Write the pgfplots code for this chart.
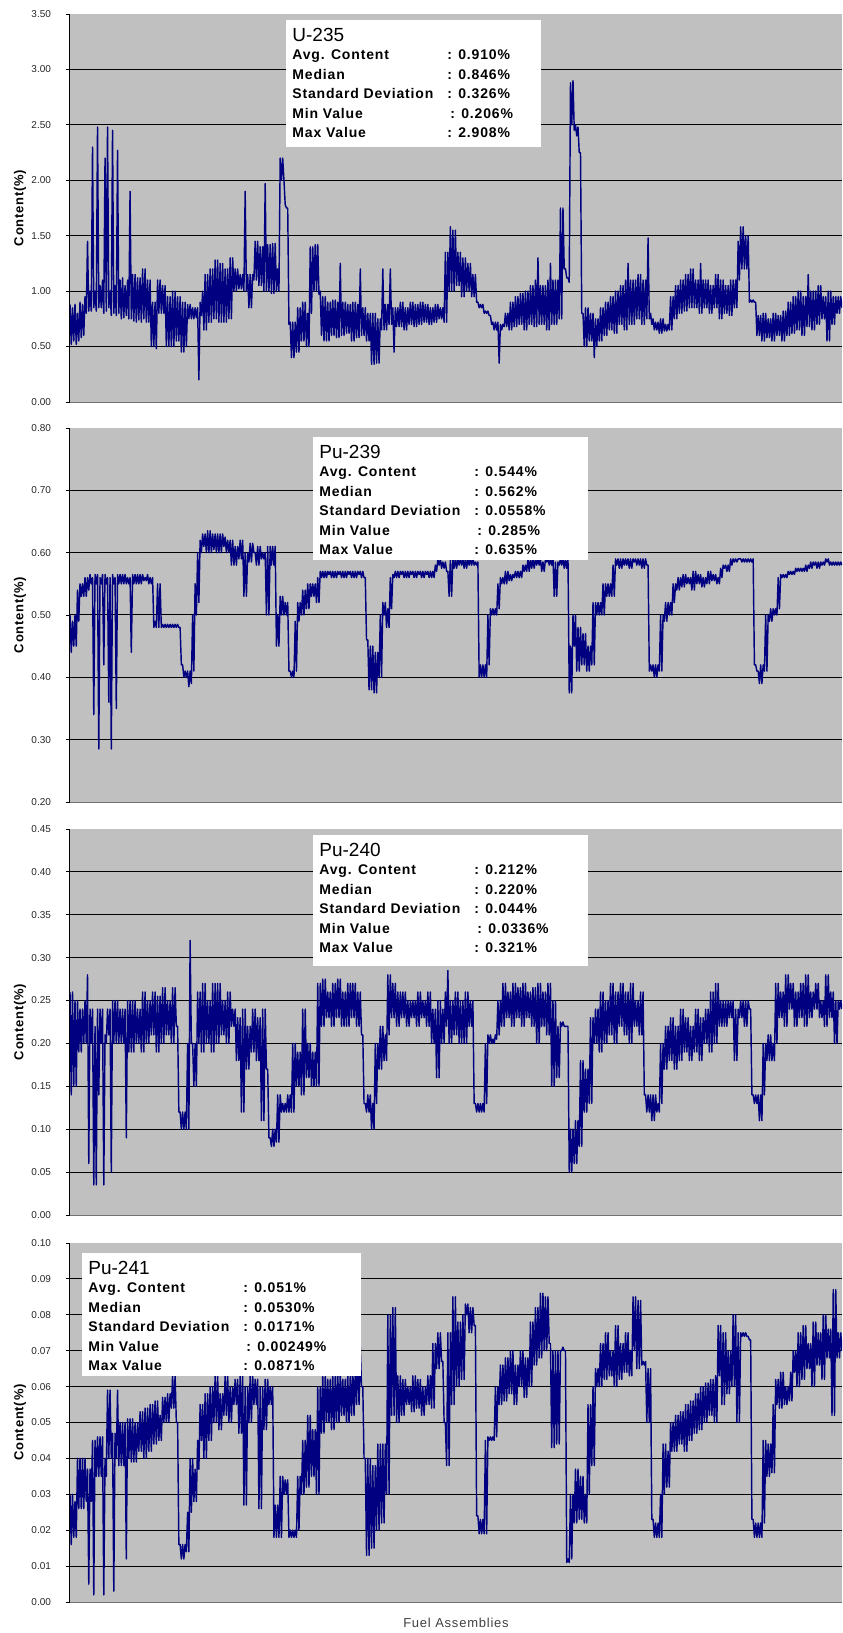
\documentclass[border=0pt]{standalone}
\usepackage{fontspec}
\setmainfont{Liberation Sans}
\newfontfamily\spaced[LetterSpace=6]{Liberation Sans}
\usepackage{pgfplots}
\pgfplotsset{compat=1.18}
\definecolor{plotbg}{RGB}{192,192,192}
\definecolor{navy}{RGB}{0,0,128}

\pgfplotsset{panel/.style={
  scale only axis, width=386pt,
  xmin=0, xmax=617, enlargelimits=false,
  axis background/.style={fill=plotbg},
  axis x line=bottom, axis y line=left,
  axis line style={-},
  x axis line style={draw=black!55, line width=0.4pt},
  y axis line style={draw=black, line width=0.5pt},
  xtick=\empty,
  ymajorgrids, grid style={black, line width=0.5pt},
  extra y tick style={grid=none},
  tick align=outside, major tick length=2pt, tick style={black, line width=0.4pt},
  yticklabel style={font=\fontsize{5}{6}\selectfont, text=black!85,
    /pgf/number format/fixed, /pgf/number format/fixed zerofill,
    /pgf/number format/precision=2, /pgf/number format/assume math mode=true, xshift=-4pt},
  every axis y label/.style={at={(axis description cs:0,0.5)}, xshift=-25pt, rotate=90, anchor=center},
  ylabel style={font=\spaced\bfseries\fontsize{6.5}{7}\selectfont},
  ylabel={Content(\%)},
},
dataline/.style={navy, line width=0.72pt, line join=round, no markers}}

\newcommand{\statrow}[3]{\node[anchor=base west, inner sep=0pt, font=\spaced\bfseries\fontsize{7}{8}\selectfont] at ([xshift=3pt,yshift=-#1]sb.north west) {\makebox[77.5pt][l]{#2}#3};}
\newcommand{\statbox}[9]{%
  \node[fill=white, inner sep=0pt, minimum width=#2, minimum height=#3, anchor=north west] (sb) at #1 {};
  \node[anchor=base west, inner sep=0pt, font=\fontsize{9.5}{10}\selectfont] at ([xshift=3pt,yshift=-10.6pt]sb.north west) {#4};
  \statrow{19.9pt}{Avg. Content}{: #5}
  \statrow{29.65pt}{Median}{: #6}
  \statrow{39.4pt}{Standard Deviation}{: #7}
  \statrow{49.15pt}{Min Value}{\hspace{1.5pt}: #8}
  \statrow{58.9pt}{Max Value}{: #9}
}

\begin{document}
\begin{tikzpicture}
\path[use as bounding box] (0,0) rectangle (421pt,816.5pt);

% ---------------- U-235 ----------------
\begin{axis}[panel, at={(35pt,615.5pt)}, anchor=south west, height=194pt,
  ymin=0, ymax=3.5, ytick={0.5,1,1.5,2,2.5,3}, extra y ticks={0,3.5}]
\addplot[dataline] table[x expr=\coordindex, y index=0, row sep=\\] {y\\
.88\\ .52\\ .85\\ .55\\ .88\\ .52\\ .8\\ .55\\ .9\\ .58\\
.88\\ .6\\ .95\\ .8\\ 1.45\\ .82\\ 1.0\\ .82\\ 2.3\\ .85\\
1.0\\ .82\\ 2.48\\ .85\\ 1.05\\ .85\\ 1.1\\ .8\\ 2.2\\ .82\\
2.48\\ .85\\ 1.0\\ .78\\ 2.45\\ .8\\ 1.05\\ .78\\ 2.27\\ .8\\
1.1\\ .75\\ 1.12\\ .76\\ 1.05\\ .78\\ 1.1\\ .75\\ 1.9\\ .75\\
1.15\\ .73\\ 1.15\\ .72\\ 1.12\\ .74\\ 1.12\\ .72\\ 1.2\\ .75\\
1.2\\ .72\\ 1.1\\ .72\\ 1.1\\ .5\\ .9\\ .5\\ .9\\ .48\\
1.1\\ .8\\ 1.1\\ .8\\ 1.05\\ .8\\ 1.05\\ .5\\ .95\\ .5\\
.95\\ .5\\ 1.0\\ .5\\ 1.0\\ .55\\ .95\\ .55\\ .95\\ .45\\
.9\\ .45\\ .9\\ .5\\ .88\\ .75\\ .88\\ .75\\ .85\\ .75\\
.85\\ .76\\ .85\\ .2\\ .9\\ .78\\ 1.0\\ .65\\ 1.15\\ .65\\
1.15\\ .72\\ 1.2\\ .72\\ 1.2\\ .75\\ 1.28\\ .75\\ 1.28\\ .72\\
1.25\\ .72\\ 1.25\\ .72\\ 1.2\\ .72\\ 1.2\\ .75\\ 1.3\\ .75\\
1.3\\ 1.0\\ 1.2\\ 1.0\\ 1.2\\ 1.02\\ 1.15\\ 1.02\\ 1.15\\ 1.0\\
1.9\\ 1.0\\ 1.15\\ .85\\ 1.15\\ .85\\ 1.15\\ 1.1\\ 1.45\\ 1.1\\
1.45\\ 1.05\\ 1.4\\ 1.05\\ 1.4\\ 1.0\\ 1.97\\ 1.0\\ 1.42\\ 1.0\\
1.42\\ .98\\ 1.43\\ .98\\ 1.43\\ 1.0\\ 1.2\\ 1.0\\ 2.2\\ 2.0\\
2.2\\ 2.0\\ 1.78\\ 1.75\\ 1.75\\ .7\\ .72\\ .4\\ .72\\ .4\\
.72\\ .45\\ .85\\ .45\\ .85\\ .55\\ .9\\ .55\\ .9\\ .5\\
.8\\ .5\\ 1.4\\ .8\\ 1.4\\ 1.0\\ 1.42\\ 1.0\\ 1.42\\ .97\\
1.0\\ .6\\ .95\\ .55\\ .95\\ .55\\ .9\\ .55\\ .9\\ .6\\
.92\\ .6\\ .92\\ .58\\ .9\\ .58\\ 1.25\\ .6\\ .9\\ .6\\
.9\\ .62\\ .88\\ .62\\ .88\\ .55\\ .9\\ .55\\ .9\\ .58\\
.88\\ .58\\ 1.2\\ .6\\ .85\\ .6\\ .85\\ .55\\ .8\\ .55\\
.8\\ .34\\ .8\\ .34\\ .8\\ .35\\ .75\\ .35\\ .75\\ .65\\
1.2\\ .65\\ .88\\ .65\\ .88\\ .7\\ 1.2\\ .7\\ .85\\ .45\\
.85\\ .68\\ .85\\ .68\\ .9\\ .68\\ .9\\ .65\\ .85\\ .65\\
.85\\ .7\\ .9\\ .7\\ .9\\ .68\\ .88\\ .68\\ .88\\ .7\\
.9\\ .7\\ .9\\ .72\\ .88\\ .72\\ .88\\ .7\\ .85\\ .7\\
.85\\ .72\\ .88\\ .72\\ .88\\ .75\\ .85\\ .75\\ .85\\ .72\\
1.35\\ .72\\ 1.35\\ 1.0\\ 1.58\\ 1.0\\ 1.55\\ 1.0\\ 1.55\\ 1.05\\
1.35\\ 1.05\\ 1.35\\ .95\\ 1.3\\ .95\\ 1.3\\ 1.0\\ 1.25\\ 1.0\\
1.25\\ .95\\ 1.15\\ .95\\ 1.15\\ .9\\ .9\\ .85\\ .88\\ .85\\
.88\\ .8\\ .82\\ .8\\ .82\\ .78\\ .78\\ .7\\ .72\\ .65\\
.72\\ .65\\ .72\\ .35\\ .7\\ .65\\ .7\\ .68\\ .8\\ .68\\
.8\\ .65\\ .9\\ .65\\ .9\\ .68\\ .95\\ .68\\ .95\\ .7\\
.98\\ .7\\ .98\\ .65\\ 1.0\\ .65\\ 1.0\\ .7\\ 1.05\\ .7\\
1.05\\ .68\\ 1.1\\ .68\\ 1.3\\ .7\\ 1.05\\ .7\\ 1.05\\ .7\\
1.05\\ .65\\ 1.1\\ .65\\ 1.25\\ .7\\ 1.1\\ .7\\ 1.1\\ .7\\
1.1\\ .75\\ 1.75\\ .75\\ 1.75\\ 1.2\\ 1.2\\ 1.12\\ 1.12\\ 1.08\\
2.88\\ 2.5\\ 2.9\\ 2.45\\ 2.5\\ 2.4\\ 2.48\\ 2.25\\ 2.25\\ .8\\
.8\\ .5\\ .85\\ .5\\ .85\\ .55\\ .8\\ .55\\ .8\\ .4\\
.75\\ .5\\ .75\\ .55\\ .85\\ .55\\ .85\\ .6\\ .9\\ .6\\
.9\\ .65\\ .95\\ .65\\ .95\\ .62\\ 1.0\\ .62\\ 1.0\\ .7\\
1.05\\ .7\\ 1.05\\ .65\\ 1.1\\ .65\\ 1.25\\ .7\\ 1.1\\ .7\\
1.1\\ .7\\ 1.1\\ .75\\ 1.15\\ .75\\ 1.15\\ .7\\ 1.1\\ .7\\
1.1\\ .75\\ 1.48\\ .75\\ .8\\ .7\\ .75\\ .65\\ .72\\ .65\\
.72\\ .62\\ .75\\ .62\\ .75\\ .64\\ .7\\ .64\\ .7\\ .65\\
.95\\ .65\\ .95\\ .75\\ 1.05\\ .75\\ 1.05\\ .8\\ 1.1\\ .8\\
1.1\\ .82\\ 1.15\\ .82\\ 1.15\\ .85\\ 1.2\\ .85\\ 1.2\\ .85\\
1.1\\ .85\\ 1.1\\ .8\\ 1.25\\ .8\\ 1.1\\ .85\\ 1.1\\ .85\\
1.1\\ .8\\ 1.05\\ .8\\ 1.05\\ .85\\ 1.15\\ .85\\ 1.15\\ .75\\
1.1\\ .75\\ 1.1\\ .8\\ 1.05\\ .8\\ 1.05\\ .78\\ 1.1\\ .78\\
1.1\\ .85\\ 1.1\\ .85\\ 1.45\\ 1.1\\ 1.58\\ 1.2\\ 1.58\\ 1.2\\
1.5\\ 1.2\\ 1.5\\ .9\\ .92\\ .9\\ .92\\ .9\\ .9\\ .6\\
.78\\ .6\\ .78\\ .55\\ .8\\ .55\\ .8\\ .58\\ .75\\ .58\\
.75\\ .55\\ .8\\ .55\\ .8\\ .6\\ .78\\ .6\\ .78\\ .55\\
.82\\ .55\\ .82\\ .6\\ .9\\ .6\\ .9\\ .62\\ .95\\ .62\\
.95\\ .65\\ 1.0\\ .65\\ 1.0\\ .6\\ .95\\ .6\\ .95\\ .68\\
1.15\\ .68\\ 1.0\\ .65\\ 1.0\\ .65\\ 1.0\\ .7\\ 1.05\\ .7\\
1.05\\ .75\\ .95\\ .75\\ .95\\ .55\\ 1.0\\ .55\\ 1.0\\ .7\\
.95\\ .7\\ .95\\ .8\\ .95\\ .8\\ .95\\ .85\\
};
\end{axis}

% ---------------- Pu-239 ----------------
\begin{axis}[panel, at={(35pt,415.5pt)}, anchor=south west, height=187pt,
  ymin=0.2, ymax=0.8, ytick={0.3,0.4,0.5,0.6,0.7}, extra y ticks={0.2,0.8}]
\addplot[dataline] table[x expr=\coordindex, y index=0, row sep=\\] {y\\
.5\\ .44\\ .49\\ .45\\ .5\\ .45\\ .54\\ .49\\ .55\\ .53\\
.55\\ .53\\ .56\\ .53\\ .56\\ .54\\ .565\\ .55\\ .56\\ .34\\
.565\\ .55\\ .565\\ .285\\ .56\\ .55\\ .565\\ .42\\ .565\\ .55\\
.56\\ .36\\ .56\\ .285\\ .565\\ .55\\ .56\\ .35\\ .565\\ .55\\
.565\\ .55\\ .565\\ .55\\ .565\\ .55\\ .56\\ .55\\ .56\\ .44\\
.565\\ .55\\ .565\\ .55\\ .565\\ .55\\ .565\\ .55\\ .565\\ .555\\
.56\\ .555\\ .565\\ .55\\ .56\\ .55\\ .56\\ .48\\ .49\\ .48\\
.55\\ .48\\ .55\\ .48\\ .485\\ .48\\ .485\\ .48\\ .485\\ .48\\
.485\\ .48\\ .485\\ .48\\ .485\\ .48\\ .485\\ .48\\ .48\\ .42\\
.42\\ .4\\ .41\\ .4\\ .41\\ .385\\ .41\\ .39\\ .5\\ .41\\
.55\\ .5\\ .6\\ .52\\ .62\\ .6\\ .63\\ .61\\ .63\\ .6\\
.635\\ .6\\ .635\\ .6\\ .63\\ .605\\ .63\\ .6\\ .63\\ .6\\
.63\\ .6\\ .63\\ .61\\ .625\\ .6\\ .62\\ .6\\ .62\\ .58\\
.62\\ .58\\ .61\\ .58\\ .61\\ .59\\ .62\\ .59\\ .62\\ .53\\
.6\\ .53\\ .6\\ .585\\ .615\\ .585\\ .615\\ .6\\ .6\\ .58\\
.61\\ .58\\ .61\\ .59\\ .6\\ .59\\ .6\\ .5\\ .61\\ .5\\
.61\\ .58\\ .61\\ .58\\ .61\\ .45\\ .5\\ .45\\ .53\\ .5\\
.53\\ .5\\ .52\\ .5\\ .52\\ .41\\ .41\\ .4\\ .41\\ .4\\
.49\\ .41\\ .52\\ .49\\ .52\\ .5\\ .54\\ .5\\ .54\\ .51\\
.55\\ .51\\ .55\\ .53\\ .55\\ .53\\ .55\\ .52\\ .56\\ .52\\
.57\\ .56\\ .57\\ .56\\ .57\\ .56\\ .57\\ .565\\ .57\\ .56\\
.57\\ .56\\ .57\\ .56\\ .57\\ .565\\ .57\\ .56\\ .57\\ .56\\
.57\\ .56\\ .57\\ .565\\ .57\\ .56\\ .57\\ .56\\ .57\\ .56\\
.57\\ .565\\ .57\\ .56\\ .57\\ .56\\ .56\\ .46\\ .46\\ .38\\
.45\\ .38\\ .45\\ .375\\ .44\\ .375\\ .44\\ .4\\ .5\\ .4\\
.52\\ .5\\ .52\\ .48\\ .51\\ .48\\ .56\\ .51\\ .565\\ .56\\
.57\\ .56\\ .57\\ .56\\ .57\\ .565\\ .57\\ .56\\ .57\\ .56\\
.57\\ .56\\ .57\\ .565\\ .57\\ .56\\ .57\\ .56\\ .57\\ .565\\
.57\\ .56\\ .57\\ .56\\ .57\\ .565\\ .57\\ .56\\ .57\\ .56\\
.57\\ .56\\ .58\\ .57\\ .59\\ .58\\ .59\\ .575\\ .585\\ .575\\
.585\\ .57\\ .57\\ .53\\ .59\\ .53\\ .59\\ .575\\ .59\\ .575\\
.59\\ .58\\ .59\\ .58\\ .59\\ .575\\ .59\\ .575\\ .59\\ .58\\
.59\\ .58\\ .59\\ .58\\ .585\\ .58\\ .585\\ .4\\ .42\\ .4\\
.42\\ .4\\ .42\\ .4\\ .5\\ .42\\ .51\\ .5\\ .51\\ .5\\
.51\\ .5\\ .55\\ .51\\ .56\\ .55\\ .56\\ .55\\ .57\\ .55\\
.57\\ .555\\ .565\\ .555\\ .565\\ .56\\ .57\\ .56\\ .57\\ .56\\
.57\\ .56\\ .58\\ .57\\ .58\\ .57\\ .59\\ .57\\ .59\\ .575\\
.59\\ .575\\ .59\\ .58\\ .59\\ .58\\ .59\\ .57\\ .585\\ .57\\
.59\\ .585\\ .59\\ .58\\ .59\\ .58\\ .59\\ .53\\ .585\\ .53\\
.585\\ .58\\ .59\\ .58\\ .59\\ .575\\ .59\\ .575\\ .59\\ .375\\
.45\\ .375\\ .5\\ .45\\ .5\\ .41\\ .48\\ .41\\ .48\\ .42\\
.47\\ .42\\ .47\\ .41\\ .45\\ .41\\ .45\\ .42\\ .52\\ .42\\
.52\\ .5\\ .52\\ .5\\ .52\\ .5\\ .55\\ .5\\ .55\\ .53\\
.55\\ .53\\ .55\\ .53\\ .58\\ .53\\ .59\\ .58\\ .59\\ .575\\
.59\\ .575\\ .59\\ .58\\ .59\\ .58\\ .59\\ .575\\ .59\\ .575\\
.59\\ .585\\ .59\\ .58\\ .59\\ .58\\ .59\\ .575\\ .59\\ .575\\
.59\\ .58\\ .58\\ .41\\ .42\\ .41\\ .42\\ .4\\ .42\\ .4\\
.42\\ .41\\ .5\\ .41\\ .5\\ .49\\ .52\\ .49\\ .52\\ .5\\
.52\\ .5\\ .55\\ .52\\ .55\\ .54\\ .56\\ .54\\ .56\\ .545\\
.565\\ .545\\ .565\\ .55\\ .56\\ .55\\ .56\\ .54\\ .57\\ .54\\
.57\\ .55\\ .565\\ .55\\ .565\\ .545\\ .56\\ .545\\ .56\\ .55\\
.57\\ .55\\ .57\\ .555\\ .565\\ .555\\ .565\\ .55\\ .56\\ .55\\
.575\\ .56\\ .58\\ .575\\ .58\\ .57\\ .58\\ .57\\ .59\\ .58\\
.59\\ .585\\ .59\\ .585\\ .59\\ .59\\ .59\\ .585\\ .59\\ .585\\
.59\\ .585\\ .59\\ .585\\ .59\\ .585\\ .59\\ .42\\ .42\\ .41\\
.41\\ .39\\ .42\\ .39\\ .42\\ .41\\ .5\\ .41\\ .5\\ .49\\
.51\\ .49\\ .51\\ .5\\ .51\\ .5\\ .56\\ .51\\ .565\\ .56\\
.565\\ .56\\ .565\\ .56\\ .57\\ .565\\ .57\\ .565\\ .57\\ .565\\
.575\\ .57\\ .575\\ .57\\ .575\\ .57\\ .575\\ .57\\ .58\\ .57\\
.58\\ .575\\ .585\\ .575\\ .585\\ .58\\ .585\\ .575\\ .585\\ .575\\
.585\\ .58\\ .585\\ .58\\ .59\\ .585\\ .59\\ .58\\ .585\\ .58\\
.585\\ .58\\ .585\\ .58\\ .585\\ .58\\ .585\\ .58\\
};
\end{axis}

% ---------------- Pu-240 ----------------
\begin{axis}[panel, at={(35pt,209pt)}, anchor=south west, height=193pt,
  ymin=0, ymax=0.45, ytick={0.05,0.1,0.15,0.2,0.25,0.3,0.35,0.4}, extra y ticks={0,0.45}]
\addplot[dataline] table[x expr=\coordindex, y index=0, row sep=\\] {y\\
.26\\ .14\\ .26\\ .15\\ .25\\ .15\\ .25\\ .19\\ .24\\ .19\\
.24\\ .2\\ .25\\ .2\\ .28\\ .06\\ .24\\ .2\\ .24\\ .035\\
.22\\ .035\\ .24\\ .14\\ .24\\ .2\\ .24\\ .035\\ .21\\ .2\\
.24\\ .21\\ .24\\ .05\\ .25\\ .2\\ .25\\ .2\\ .25\\ .2\\
.24\\ .2\\ .24\\ .2\\ .24\\ .09\\ .25\\ .19\\ .25\\ .19\\
.25\\ .19\\ .25\\ .2\\ .24\\ .2\\ .24\\ .19\\ .26\\ .19\\
.26\\ .2\\ .25\\ .2\\ .25\\ .21\\ .26\\ .21\\ .26\\ .19\\
.255\\ .19\\ .255\\ .2\\ .265\\ .2\\ .265\\ .21\\ .25\\ .21\\
.25\\ .2\\ .265\\ .2\\ .265\\ .22\\ .22\\ .12\\ .12\\ .1\\
.12\\ .1\\ .12\\ .1\\ .2\\ .1\\ .32\\ .2\\ .2\\ .15\\
.2\\ .15\\ .26\\ .2\\ .26\\ .19\\ .27\\ .19\\ .27\\ .2\\
.25\\ .2\\ .25\\ .19\\ .27\\ .19\\ .27\\ .2\\ .27\\ .2\\
.27\\ .21\\ .25\\ .21\\ .25\\ .2\\ .26\\ .2\\ .26\\ .22\\
.24\\ .22\\ .24\\ .18\\ .23\\ .18\\ .23\\ .12\\ .24\\ .12\\
.24\\ .17\\ .22\\ .17\\ .22\\ .19\\ .24\\ .19\\ .24\\ .18\\
.23\\ .18\\ .23\\ .11\\ .24\\ .11\\ .24\\ .17\\ .17\\ .09\\
.09\\ .08\\ .1\\ .08\\ .1\\ .085\\ .14\\ .085\\ .14\\ .12\\
.13\\ .12\\ .13\\ .12\\ .14\\ .12\\ .14\\ .12\\ .2\\ .12\\
.2\\ .15\\ .19\\ .15\\ .19\\ .14\\ .24\\ .14\\ .24\\ .16\\
.2\\ .16\\ .2\\ .15\\ .19\\ .15\\ .19\\ .15\\ .27\\ .15\\
.27\\ .22\\ .275\\ .22\\ .275\\ .23\\ .26\\ .23\\ .26\\ .22\\
.27\\ .22\\ .27\\ .23\\ .275\\ .23\\ .275\\ .22\\ .26\\ .22\\
.26\\ .22\\ .27\\ .22\\ .27\\ .23\\ .27\\ .23\\ .27\\ .22\\
.26\\ .22\\ .26\\ .21\\ .21\\ .13\\ .13\\ .12\\ .14\\ .12\\
.14\\ .1\\ .13\\ .1\\ .2\\ .13\\ .2\\ .17\\ .22\\ .17\\
.22\\ .18\\ .21\\ .18\\ .28\\ .21\\ .28\\ .23\\ .27\\ .23\\
.27\\ .22\\ .26\\ .22\\ .26\\ .23\\ .26\\ .23\\ .26\\ .22\\
.25\\ .22\\ .25\\ .23\\ .25\\ .23\\ .25\\ .22\\ .26\\ .22\\
.26\\ .23\\ .25\\ .23\\ .25\\ .22\\ .26\\ .22\\ .26\\ .2\\
.24\\ .2\\ .24\\ .16\\ .25\\ .16\\ .25\\ .2\\ .24\\ .2\\
.26\\ .22\\ .285\\ .2\\ .25\\ .2\\ .25\\ .21\\ .26\\ .21\\
.26\\ .2\\ .25\\ .2\\ .25\\ .2\\ .26\\ .2\\ .26\\ .22\\
.25\\ .22\\ .25\\ .13\\ .13\\ .12\\ .13\\ .12\\ .13\\ .12\\
.13\\ .12\\ .2\\ .13\\ .21\\ .2\\ .21\\ .2\\ .205\\ .2\\
.21\\ .205\\ .25\\ .21\\ .25\\ .22\\ .27\\ .22\\ .27\\ .23\\
.26\\ .23\\ .26\\ .22\\ .27\\ .22\\ .27\\ .23\\ .265\\ .23\\
.265\\ .22\\ .27\\ .22\\ .27\\ .23\\ .26\\ .23\\ .26\\ .22\\
.265\\ .22\\ .265\\ .2\\ .27\\ .2\\ .27\\ .22\\ .26\\ .22\\
.26\\ .21\\ .27\\ .21\\ .27\\ .15\\ .25\\ .15\\ .25\\ .16\\
.22\\ .16\\ .225\\ .22\\ .225\\ .22\\ .22\\ .22\\ .22\\ .05\\
.1\\ .05\\ .1\\ .06\\ .11\\ .06\\ .11\\ .08\\ .18\\ .08\\
.18\\ .12\\ .17\\ .12\\ .17\\ .13\\ .23\\ .13\\ .23\\ .2\\
.24\\ .2\\ .24\\ .19\\ .26\\ .19\\ .26\\ .2\\ .25\\ .2\\
.25\\ .21\\ .27\\ .21\\ .27\\ .2\\ .26\\ .2\\ .26\\ .22\\
.27\\ .22\\ .27\\ .21\\ .26\\ .21\\ .26\\ .2\\ .27\\ .2\\
.27\\ .22\\ .25\\ .22\\ .25\\ .21\\ .26\\ .21\\ .26\\ .14\\
.14\\ .12\\ .14\\ .12\\ .14\\ .11\\ .14\\ .11\\ .14\\ .12\\
.13\\ .12\\ .2\\ .13\\ .2\\ .17\\ .22\\ .17\\ .22\\ .18\\
.23\\ .18\\ .23\\ .17\\ .22\\ .17\\ .22\\ .18\\ .24\\ .18\\
.24\\ .19\\ .23\\ .19\\ .23\\ .18\\ .22\\ .18\\ .22\\ .19\\
.24\\ .19\\ .24\\ .18\\ .23\\ .18\\ .23\\ .2\\ .24\\ .2\\
.24\\ .19\\ .26\\ .19\\ .26\\ .2\\ .27\\ .2\\ .27\\ .22\\
.25\\ .22\\ .25\\ .22\\ .25\\ .22\\ .25\\ .23\\ .25\\ .23\\
.25\\ .18\\ .24\\ .18\\ .24\\ .23\\ .25\\ .23\\ .25\\ .22\\
.25\\ .22\\ .25\\ .24\\ .24\\ .14\\ .14\\ .13\\ .14\\ .13\\
.14\\ .11\\ .14\\ .11\\ .2\\ .14\\ .2\\ .18\\ .21\\ .18\\
.21\\ .18\\ .2\\ .18\\ .27\\ .2\\ .27\\ .23\\ .26\\ .23\\
.26\\ .22\\ .28\\ .22\\ .28\\ .24\\ .27\\ .24\\ .27\\ .22\\
.26\\ .22\\ .26\\ .23\\ .27\\ .23\\ .27\\ .22\\ .28\\ .22\\
.28\\ .23\\ .26\\ .23\\ .26\\ .24\\ .27\\ .24\\ .27\\ .23\\
.25\\ .23\\ .25\\ .22\\ .28\\ .22\\ .28\\ .23\\ .26\\ .23\\
.26\\ .2\\ .25\\ .2\\ .25\\ .24\\ .25\\ .24\\
};
\end{axis}

% ---------------- Pu-241 ----------------
\begin{axis}[panel, at={(35pt,15.5pt)}, anchor=south west, height=179.5pt,
  ymin=0, ymax=0.1, ytick={0.01,0.02,0.03,0.04,0.05,0.06,0.07,0.08,0.09}, extra y ticks={0,0.1},
  every axis x label/.style={at={(axis description cs:0.5,0)}, anchor=center, yshift=-10.5pt},
  xlabel style={font=\spaced\fontsize{6.5}{7}\selectfont, text=black!75},
  xlabel={Fuel Assemblies}]
\addplot[dataline] table[x expr=\coordindex, y index=0, row sep=\\] {y\\
.03\\ .016\\ .03\\ .018\\ .028\\ .018\\ .04\\ .026\\ .04\\ .026\\
.04\\ .026\\ .04\\ .028\\ .037\\ .005\\ .037\\ .028\\ .045\\ .002\\
.045\\ .035\\ .046\\ .035\\ .046\\ .035\\ .046\\ .002\\ .04\\ .035\\
.059\\ .04\\ .059\\ .04\\ .047\\ .003\\ .047\\ .04\\ .059\\ .038\\
.05\\ .038\\ .05\\ .038\\ .05\\ .012\\ .051\\ .04\\ .051\\ .039\\
.051\\ .039\\ .05\\ .039\\ .05\\ .042\\ .053\\ .042\\ .053\\ .04\\
.054\\ .04\\ .054\\ .042\\ .055\\ .042\\ .055\\ .044\\ .056\\ .044\\
.056\\ .045\\ .052\\ .045\\ .057\\ .05\\ .057\\ .05\\ .058\\ .05\\
.058\\ .054\\ .063\\ .054\\ .063\\ .05\\ .05\\ .016\\ .016\\ .012\\
.016\\ .012\\ .016\\ .014\\ .025\\ .014\\ .04\\ .025\\ .04\\ .028\\
.037\\ .028\\ .045\\ .037\\ .055\\ .045\\ .055\\ .04\\ .058\\ .04\\
.058\\ .045\\ .06\\ .045\\ .06\\ .05\\ .063\\ .05\\ .063\\ .048\\
.058\\ .048\\ .058\\ .052\\ .063\\ .052\\ .063\\ .05\\ .06\\ .05\\
.06\\ .055\\ .062\\ .055\\ .062\\ .047\\ .063\\ .047\\ .063\\ .027\\
.06\\ .027\\ .06\\ .05\\ .063\\ .05\\ .063\\ .055\\ .062\\ .055\\
.062\\ .026\\ .06\\ .026\\ .06\\ .048\\ .062\\ .048\\ .062\\ .055\\
.06\\ .055\\ .06\\ .018\\ .027\\ .018\\ .027\\ .018\\ .035\\ .018\\
.035\\ .03\\ .034\\ .03\\ .034\\ .018\\ .02\\ .018\\ .02\\ .018\\
.02\\ .018\\ .035\\ .02\\ .035\\ .03\\ .045\\ .03\\ .045\\ .032\\
.052\\ .032\\ .052\\ .035\\ .048\\ .035\\ .048\\ .03\\ .06\\ .03\\
.06\\ .047\\ .063\\ .047\\ .063\\ .05\\ .062\\ .05\\ .062\\ .048\\
.063\\ .048\\ .063\\ .05\\ .064\\ .05\\ .064\\ .052\\ .062\\ .052\\
.062\\ .05\\ .063\\ .05\\ .063\\ .052\\ .065\\ .052\\ .065\\ .055\\
.071\\ .055\\ .071\\ .06\\ .06\\ .04\\ .04\\ .013\\ .04\\ .013\\
.04\\ .015\\ .038\\ .015\\ .038\\ .02\\ .044\\ .02\\ .044\\ .022\\
.044\\ .022\\ .044\\ .03\\ .08\\ .03\\ .08\\ .052\\ .082\\ .052\\
.082\\ .05\\ .063\\ .05\\ .063\\ .052\\ .062\\ .052\\ .062\\ .055\\
.06\\ .055\\ .06\\ .053\\ .063\\ .053\\ .063\\ .054\\ .062\\ .054\\
.062\\ .052\\ .06\\ .052\\ .06\\ .055\\ .063\\ .055\\ .063\\ .054\\
.072\\ .054\\ .072\\ .065\\ .075\\ .065\\ .075\\ .067\\ .067\\ .05\\
.05\\ .038\\ .075\\ .038\\ .075\\ .055\\ .085\\ .055\\ .085\\ .06\\
.078\\ .06\\ .078\\ .062\\ .08\\ .062\\ .083\\ .08\\ .083\\ .075\\
.082\\ .075\\ .082\\ .077\\ .077\\ .024\\ .024\\ .019\\ .023\\ .019\\
.023\\ .019\\ .045\\ .019\\ .046\\ .045\\ .046\\ .045\\ .046\\ .045\\
.06\\ .046\\ .06\\ .055\\ .066\\ .055\\ .066\\ .056\\ .068\\ .056\\
.068\\ .058\\ .07\\ .058\\ .07\\ .055\\ .066\\ .055\\ .066\\ .06\\
.07\\ .06\\ .07\\ .057\\ .068\\ .057\\ .068\\ .06\\ .078\\ .06\\
.078\\ .066\\ .082\\ .066\\ .082\\ .068\\ .086\\ .068\\ .086\\ .07\\
.085\\ .07\\ .085\\ .072\\ .072\\ .043\\ .07\\ .043\\ .07\\ .044\\
.07\\ .044\\ .07\\ .07\\ .071\\ .07\\ .07\\ .011\\ .012\\ .011\\
.03\\ .012\\ .03\\ .022\\ .037\\ .022\\ .037\\ .023\\ .035\\ .023\\
.035\\ .022\\ .03\\ .022\\ .055\\ .03\\ .055\\ .038\\ .06\\ .038\\
.065\\ .06\\ .065\\ .06\\ .072\\ .06\\ .072\\ .062\\ .075\\ .062\\
.075\\ .063\\ .07\\ .063\\ .07\\ .06\\ .077\\ .06\\ .077\\ .062\\
.072\\ .062\\ .072\\ .064\\ .075\\ .064\\ .075\\ .063\\ .07\\ .063\\
.085\\ .07\\ .085\\ .065\\ .084\\ .065\\ .084\\ .066\\ .067\\ .066\\
.067\\ .05\\ .065\\ .05\\ .065\\ .023\\ .023\\ .018\\ .022\\ .018\\
.022\\ .018\\ .03\\ .018\\ .044\\ .03\\ .044\\ .032\\ .042\\ .032\\
.05\\ .042\\ .05\\ .042\\ .052\\ .042\\ .052\\ .044\\ .053\\ .044\\
.053\\ .042\\ .055\\ .042\\ .055\\ .045\\ .056\\ .045\\ .056\\ .047\\
.058\\ .047\\ .058\\ .048\\ .06\\ .048\\ .06\\ .05\\ .061\\ .05\\
.061\\ .052\\ .062\\ .052\\ .062\\ .05\\ .063\\ .05\\ .077\\ .063\\
.077\\ .055\\ .075\\ .055\\ .075\\ .058\\ .07\\ .058\\ .07\\ .06\\
.08\\ .06\\ .08\\ .05\\ .075\\ .05\\ .075\\ .074\\ .075\\ .074\\
.075\\ .074\\ .074\\ .073\\ .073\\ .023\\ .023\\ .018\\ .022\\ .018\\
.022\\ .018\\ .022\\ .018\\ .045\\ .022\\ .045\\ .035\\ .044\\ .035\\
.044\\ .036\\ .055\\ .036\\ .062\\ .055\\ .062\\ .054\\ .064\\ .054\\
.064\\ .055\\ .06\\ .055\\ .06\\ .056\\ .064\\ .056\\ .07\\ .064\\
.07\\ .06\\ .075\\ .06\\ .075\\ .062\\ .077\\ .062\\ .077\\ .065\\
.072\\ .065\\ .072\\ .06\\ .078\\ .06\\ .078\\ .066\\ .075\\ .066\\
.075\\ .062\\ .08\\ .062\\ .08\\ .068\\ .076\\ .068\\ .076\\ .052\\
.087\\ .052\\ .087\\ .068\\ .075\\ .068\\ .075\\ .07\\
};
\end{axis}

% ---------------- statistics boxes ----------------
\statbox{(143pt,806.5pt)}{127.5pt}{63.5pt}{U-235}{0.910\%}{0.846\%}{0.326\%}{0.206\%}{2.908\%}
\statbox{(156.5pt,598pt)}{137.5pt}{61.5pt}{Pu-239}{0.544\%}{0.562\%}{0.0558\%}{0.285\%}{0.635\%}
\statbox{(156.5pt,399pt)}{137.5pt}{65.5pt}{Pu-240}{0.212\%}{0.220\%}{0.044\%}{0.0336\%}{0.321\%}
\statbox{(41pt,190pt)}{139.5pt}{61.5pt}{Pu-241}{0.051\%}{0.0530\%}{0.0171\%}{0.00249\%}{0.0871\%}
\end{tikzpicture}
\end{document}
